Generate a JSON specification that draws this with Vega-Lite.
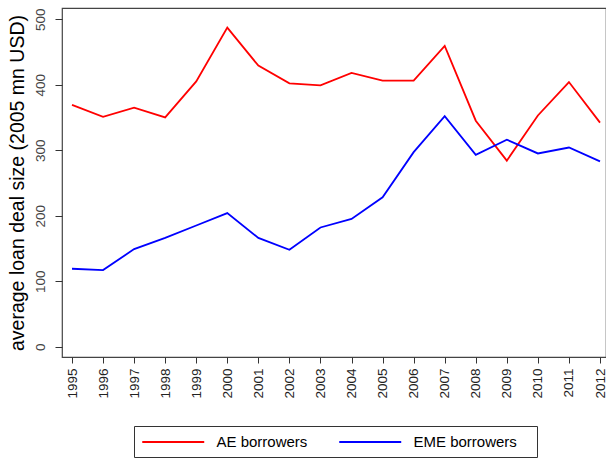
{
  "$schema": "https://vega.github.io/schema/vega-lite/v6.json",
  "autosize": "none",
  "width": 544,
  "height": 349,
  "padding": {"left": 62, "top": 8, "right": 0, "bottom": 101},
  "background": "white",
  "config": {
    "font": "Liberation Sans",
    "view": {"stroke": "#444", "strokeWidth": 1.2}
  },
  "data": {
    "values": [
      {"year": 1995, "series": "AE borrowers", "value": 369},
      {"year": 1996, "series": "AE borrowers", "value": 351},
      {"year": 1997, "series": "AE borrowers", "value": 365},
      {"year": 1998, "series": "AE borrowers", "value": 350},
      {"year": 1999, "series": "AE borrowers", "value": 405},
      {"year": 2000, "series": "AE borrowers", "value": 487},
      {"year": 2001, "series": "AE borrowers", "value": 429},
      {"year": 2002, "series": "AE borrowers", "value": 402},
      {"year": 2003, "series": "AE borrowers", "value": 399},
      {"year": 2004, "series": "AE borrowers", "value": 418},
      {"year": 2005, "series": "AE borrowers", "value": 406},
      {"year": 2006, "series": "AE borrowers", "value": 406},
      {"year": 2007, "series": "AE borrowers", "value": 459},
      {"year": 2008, "series": "AE borrowers", "value": 345},
      {"year": 2009, "series": "AE borrowers", "value": 284},
      {"year": 2010, "series": "AE borrowers", "value": 353},
      {"year": 2011, "series": "AE borrowers", "value": 404},
      {"year": 2012, "series": "AE borrowers", "value": 342},
      {"year": 1995, "series": "EME borrowers", "value": 119},
      {"year": 1996, "series": "EME borrowers", "value": 117},
      {"year": 1997, "series": "EME borrowers", "value": 149},
      {"year": 1998, "series": "EME borrowers", "value": 166},
      {"year": 1999, "series": "EME borrowers", "value": 185},
      {"year": 2000, "series": "EME borrowers", "value": 204},
      {"year": 2001, "series": "EME borrowers", "value": 166},
      {"year": 2002, "series": "EME borrowers", "value": 148},
      {"year": 2003, "series": "EME borrowers", "value": 182},
      {"year": 2004, "series": "EME borrowers", "value": 195},
      {"year": 2005, "series": "EME borrowers", "value": 228},
      {"year": 2006, "series": "EME borrowers", "value": 297},
      {"year": 2007, "series": "EME borrowers", "value": 352},
      {"year": 2008, "series": "EME borrowers", "value": 293},
      {"year": 2009, "series": "EME borrowers", "value": 316},
      {"year": 2010, "series": "EME borrowers", "value": 295},
      {"year": 2011, "series": "EME borrowers", "value": 304},
      {"year": 2012, "series": "EME borrowers", "value": 283}
    ]
  },
  "mark": {"type": "line", "strokeWidth": 1.8},
  "encoding": {
    "x": {
      "field": "year",
      "type": "quantitative",
      "scale": {"domain": [1994.678, 2012.193], "nice": false, "zero": false},
      "axis": {
        "title": null,
        "values": [1995,1996,1997,1998,1999,2000,2001,2002,2003,2004,2005,2006,2007,2008,2009,2010,2011,2012],
        "format": "d",
        "grid": false,
        "domain": false,
        "tickSize": 6,
        "tickColor": "#333",
        "labelAngle": 270,
        "labelAlign": "right",
        "labelBaseline": "middle",
        "labelPadding": 5,
        "labelFontSize": 13.5,
        "labelColor": "#222",
        "labelFlush": false,
        "labelOverlap": false
      }
    },
    "y": {
      "field": "value",
      "type": "quantitative",
      "scale": {"domain": [-15.7, 517], "nice": false, "zero": false},
      "axis": {
        "title": "average loan deal size (2005 mn USD)",
        "titleFontSize": 19.5,
        "titleFontWeight": "normal",
        "titleColor": "#000",
        "titlePadding": 6,
        "values": [0, 100, 200, 300, 400, 500],
        "grid": false,
        "domain": false,
        "tickSize": 7,
        "tickColor": "#333",
        "labelAngle": 270,
        "labelAlign": "center",
        "labelBaseline": "bottom",
        "labelPadding": 8,
        "labelFontSize": 13.5,
        "labelColor": "#444",
        "labelFlush": false,
        "labelOverlap": false
      }
    },
    "color": {
      "field": "series",
      "type": "nominal",
      "scale": {"domain": ["AE borrowers", "EME borrowers"], "range": ["#ff0000", "#0000ff"]},
      "legend": {
        "title": "\u00a0",
        "titleOrient": "right",
        "titlePadding": 13,
        "titleFontSize": 15,
        "orient": "none",
        "legendX": 72,
        "legendY": 418,
        "direction": "horizontal",
        "strokeColor": "#333",
        "padding": 7,
        "symbolType": "M-1,0H7",
        "symbolSize": 240,
        "symbolStrokeWidth": 2,
        "labelOffset": 57.5,
        "columnPadding": 27,
        "labelFontSize": 15,
        "labelColor": "#000"
      }
    }
  }
}
